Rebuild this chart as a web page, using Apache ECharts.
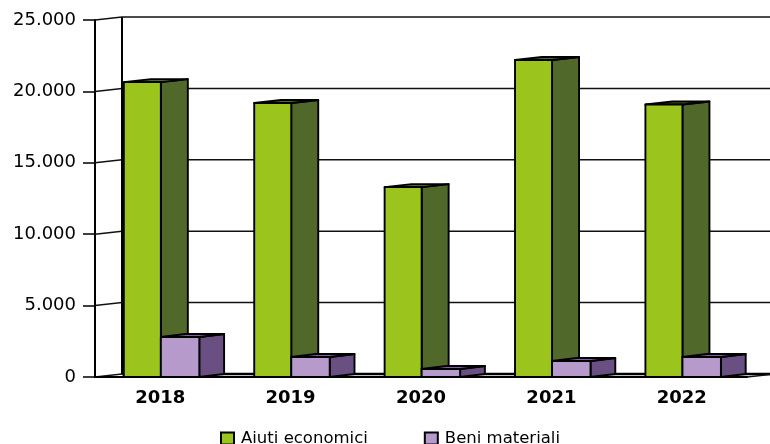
<!DOCTYPE html>
<html>
<head>
<meta charset="utf-8">
<style>html,body{margin:0;padding:0;background:#fff}#c{width:770px;height:444px}</style>
<script src="https://cdn.jsdelivr.net/npm/echarts@6/dist/echarts.min.js"></script>
</head>
<body>
<div id="c"></div>
<script>
const categories = ['2018', '2019', '2020', '2021', '2022'];
const aiutiEconomici = [20650, 19190, 13300, 22200, 19080];
const beniMateriali = [2800, 1400, 560, 1120, 1400];
const yTicks = [0, 5000, 10000, 15000, 20000, 25000];

const chart = echarts.init(document.getElementById('c'), null, {renderer: 'canvas'});
const RISE = 3, WALL = 27, LW = 1.9;
const line = {stroke: '#111', lineWidth: 1.5, lineJoin: 'round'};

function box(x, w, depth, top, bottom, front, side, roof) {
  const poly = (points, fill) => ({type: 'polygon', shape: {points}, style: {fill, stroke: '#000', lineWidth: LW, lineJoin: 'round'}});
  return [
    poly([[x + w, top], [x + w + depth, top - RISE], [x + w + depth, bottom - RISE], [x + w, bottom]], side),
    poly([[x, top], [x + depth, top - RISE], [x + w + depth, top - RISE], [x + w, top]], roof),
    poly([[x, top], [x + w, top], [x + w, bottom], [x, bottom]], front)
  ];
}
function renderBar(kind) {
  return function (params, api) {
    const idx = api.value(0);
    const top = api.coord([idx, api.value(1)]);
    const base = api.coord([idx, 0]);
    const band = api.size([1, 0])[0];
    const mid = top[0] + band * 0.005;
    if (kind === 'green') {
      const w = band * 0.284;
      return {type: 'group', children: box(mid - w, w, band * 0.207, top[1], base[1], '#9BC41C', '#50682A', '#50682A')};
    }
    const w = band * 0.295;
    return {type: 'group', children: box(mid, w, band * 0.19, top[1], base[1], '#B59ACB', '#6A4F82', '#7F5F9F')};
  };
}
function renderWall(params, api) {
  const val = api.value(0);
  const p0 = api.coord([0, val]);
  const band = api.size([1, 0])[0];
  const x0 = p0[0] - band / 2;
  const y = p0[1];
  const xb = x0 + WALL;
  const kids = [
    {type: 'line', shape: {x1: x0, y1: y, x2: xb, y2: y - RISE}, style: line},
    {type: 'line', shape: {x1: xb, y1: y - RISE, x2: x0 + band * categories.length + WALL + 4, y2: y - RISE}, style: val === 0 ? {stroke: '#000', lineWidth: 2.5} : line}
  ];
  if (val === yTicks[yTicks.length - 1]) {
    const b = api.coord([0, 0]);
    kids.push({type: 'line', shape: {x1: xb, y1: y - RISE, x2: xb, y2: b[1] - RISE}, style: {stroke: '#000', lineWidth: 2}});
  }
  if (val === 0) {
    kids.push({type: 'line', shape: {x1: x0 + band * categories.length, y1: y, x2: x0 + band * categories.length + WALL, y2: y - RISE}, style: line});
  }
  return {type: 'group', children: kids};
}

chart.setOption({
  animation: false,
  backgroundColor: '#fff',
  textStyle: {fontFamily: 'DejaVu Sans'},
  grid: {left: 95, right: 23, top: 20, bottom: 67, containLabel: false},
  legend: {
    left: 215, top: 425, icon: 'rect', itemWidth: 13, itemHeight: 12, itemGap: 56,
    textStyle: {fontFamily: 'DejaVu Sans', fontSize: 16.5, color: '#000', padding: [0, 0, 0, 2]},
    data: ['Aiuti economici', 'Beni materiali']
  },
  xAxis: {
    type: 'category', data: categories, z: 5,
    axisLine: {lineStyle: {color: '#000', width: 2}},
    axisTick: {length: 5, lineStyle: {color: '#000', width: 1}},
    axisLabel: {fontFamily: 'DejaVu Sans', fontWeight: 'bold', fontSize: 18, color: '#000', margin: 12}
  },
  yAxis: {
    type: 'value', min: 0, max: 25000, interval: 5000,
    splitLine: {show: false},
    axisLine: {show: true, lineStyle: {color: '#000', width: 2}},
    axisTick: {show: true, length: 12, lineStyle: {color: '#000', width: 1.5}},
    axisLabel: {
      fontFamily: 'DejaVu Sans', fontSize: 18, color: '#000', margin: 19,
      formatter: v => v === 0 ? '0' : String(v).replace(/(\d)(\d{3})$/, '$1.$2')
    }
  },
  series: [
    {type: 'custom', name: 'wall', silent: true, z: 1, data: yTicks.map(v => [v]), encode: {y: 0}, renderItem: renderWall},
    {type: 'custom', name: 'Aiuti economici', z: 2, itemStyle: {color: '#9BC41C', borderColor: '#000', borderWidth: 1},
      data: aiutiEconomici.map((v, i) => [i, v]), encode: {x: 0, y: 1}, renderItem: renderBar('green')},
    {type: 'custom', name: 'Beni materiali', z: 3, itemStyle: {color: '#B59ACB', borderColor: '#000', borderWidth: 1},
      data: beniMateriali.map((v, i) => [i, v]), encode: {x: 0, y: 1}, renderItem: renderBar('purple')}
  ]
});
</script>
</body>
</html>
